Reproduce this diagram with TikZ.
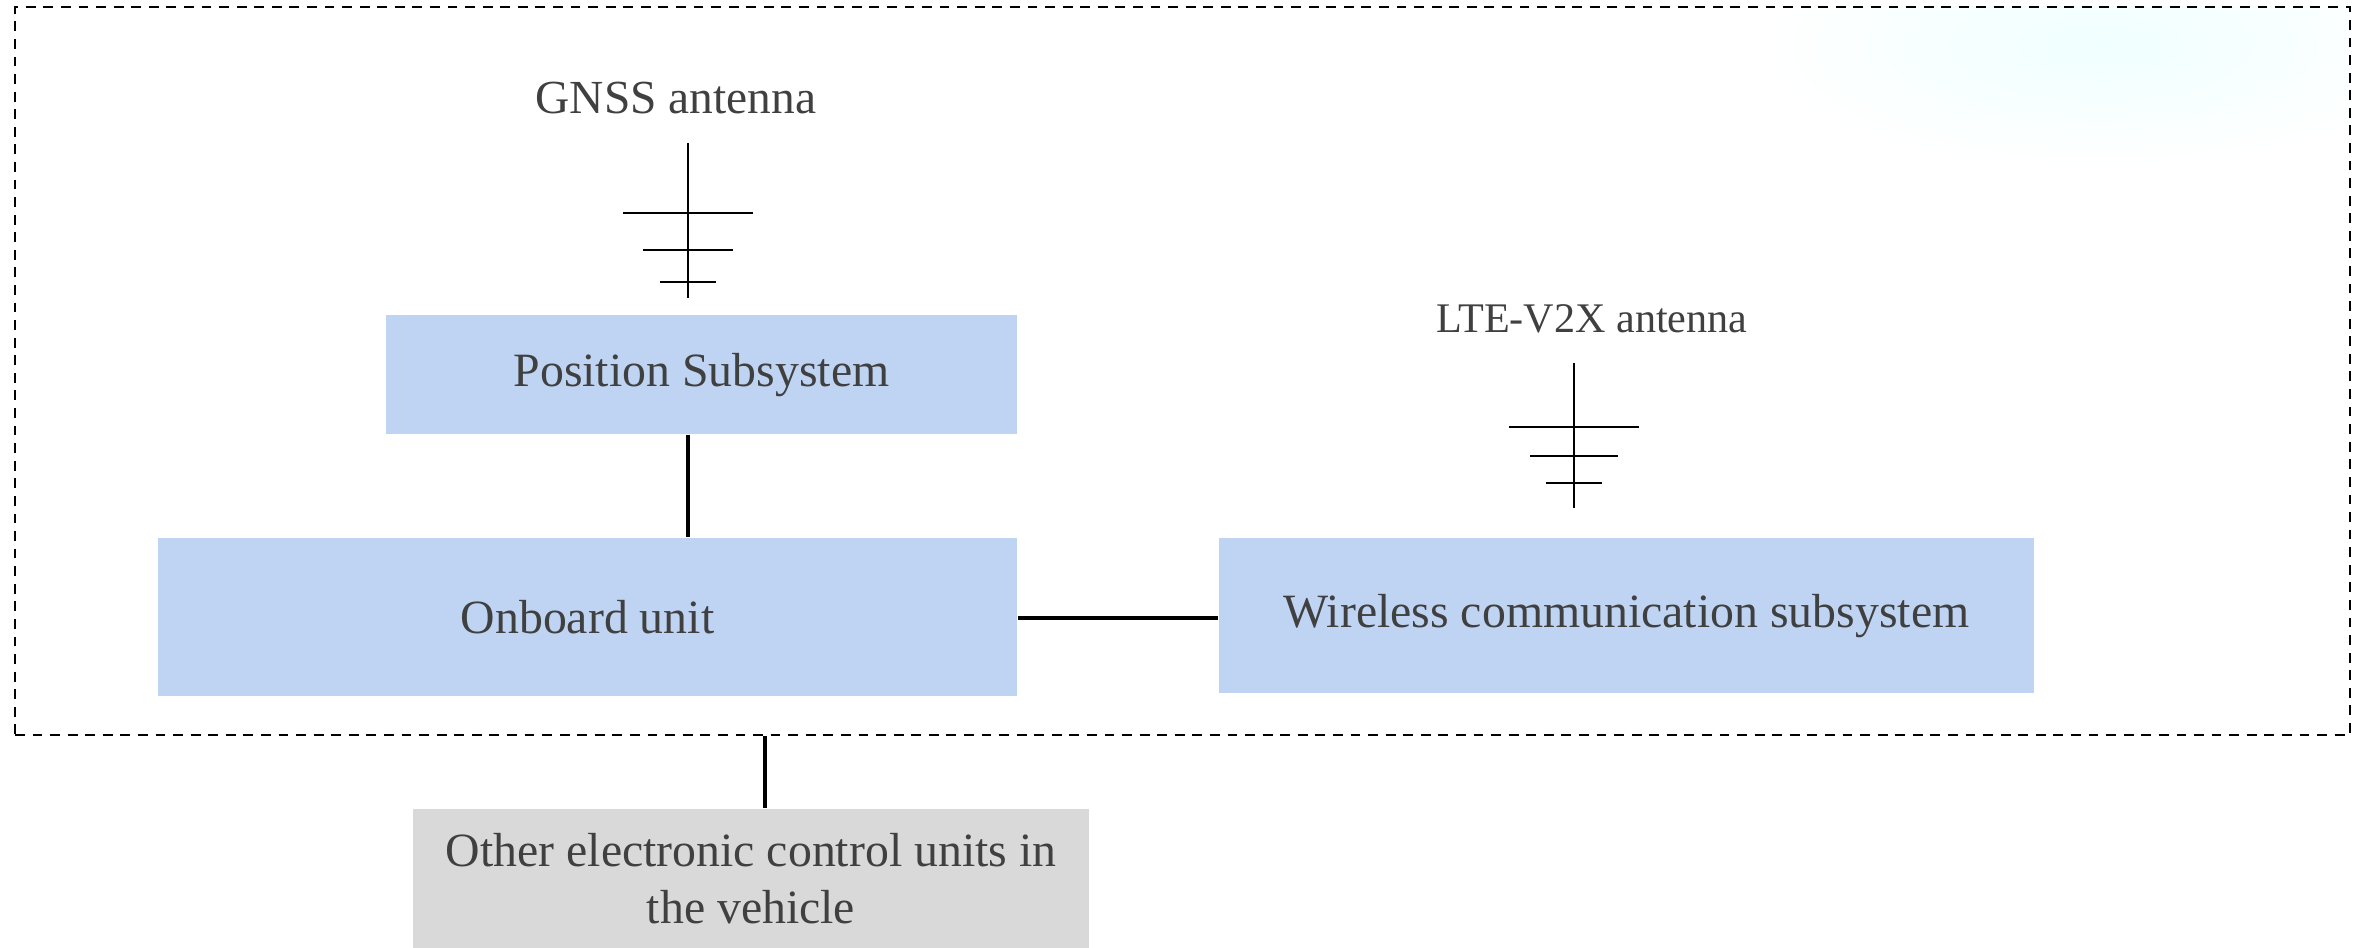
\documentclass[tikz,border=0pt]{standalone}
\usepackage{fontspec}
\setmainfont{Liberation Serif}
\definecolor{boxblue}{HTML}{BFD4F2}
\definecolor{boxgray}{HTML}{D9D9D9}
\definecolor{txtgray}{HTML}{404040}
\newcommand{\boxfont}{\fontsize{13.6}{16.4}\selectfont}

\begin{document}
\begin{tikzpicture}[every node/.style={text=txtgray, inner sep=0pt}]
    \useasboundingbox (0,0) rectangle (23.62,-9.48);
    % faint glow, top right
    \begin{scope}
      \clip (0.15,-0.07) rectangle (23.5,-7.35);
      \shade[inner color=cyan!6, outer color=white] (21.0,-0.45) ellipse (3.4 and 1.25);
    \end{scope}
    % vehicle frame
    \node (frame) at (11.825,-3.71) [draw=black, dash pattern=on 2.8pt off 2.2pt, line width=0.6pt, minimum width=23.35cm, minimum height=7.28cm] {};
    % boxes
    \node (pos) at (7.015,-3.745) [fill=boxblue, minimum width=6.31cm, minimum height=1.19cm, text depth=0.1cm] {\boxfont Position Subsystem};
    \node (obu) at (5.875,-6.17) [fill=boxblue, minimum width=8.59cm, minimum height=1.58cm] {\boxfont Onboard unit};
    \node (wcs) at (16.265,-6.155) [fill=boxblue, minimum width=8.15cm, minimum height=1.55cm, text depth=0.1cm] {\boxfont Wireless communication subsystem};
    \node (ecu) at (7.51,-8.785) [fill=boxgray, minimum width=6.76cm, minimum height=1.39cm, align=center, font=\boxfont] {Other electronic control units in\\ the vehicle};
    % antennas
    \node (gnss) at (6.76,-0.98) {\fontsize{13.5}{16}\selectfont GNSS antenna};
    \node (lte) at (15.92,-3.19) {\fontsize{12}{14}\selectfont LTE-V2X antenna};
    \coordinate (gtop) at (6.88,-1.43);
    \coordinate (ltop) at (15.74,-3.63);
    \draw [black, line width=0.8pt] (gtop) -- ++(0,-1.55);
    \draw [black, line width=0.8pt] ([yshift=-0.70cm]gtop) ++(-0.65,0) -- ++(1.30,0);
    \draw [black, line width=0.8pt] ([yshift=-1.07cm]gtop) ++(-0.45,0) -- ++(0.90,0);
    \draw [black, line width=0.8pt] ([yshift=-1.39cm]gtop) ++(-0.28,0) -- ++(0.56,0);
    \draw [black, line width=0.8pt] (ltop) -- ++(0,-1.45);
    \draw [black, line width=0.8pt] ([yshift=-0.64cm]ltop) ++(-0.65,0) -- ++(1.30,0);
    \draw [black, line width=0.8pt] ([yshift=-0.93cm]ltop) ++(-0.44,0) -- ++(0.88,0);
    \draw [black, line width=0.8pt] ([yshift=-1.20cm]ltop) ++(-0.28,0) -- ++(0.56,0);
    % connectors
    \draw [black, line width=0.9pt] ([xshift=-1.35mm]pos.south) -- ([xshift=-1.35mm]pos.south |- obu.north);
    \draw [black, line width=0.9pt] ([yshift=-0.1mm]obu.east) -- ([yshift=-0.1mm]obu.east -| wcs.west);
    \draw [black, line width=0.9pt] ([xshift=1.4mm]ecu.north |- frame.south) -- ([xshift=1.4mm]ecu.north);
\end{tikzpicture}
\end{document}
